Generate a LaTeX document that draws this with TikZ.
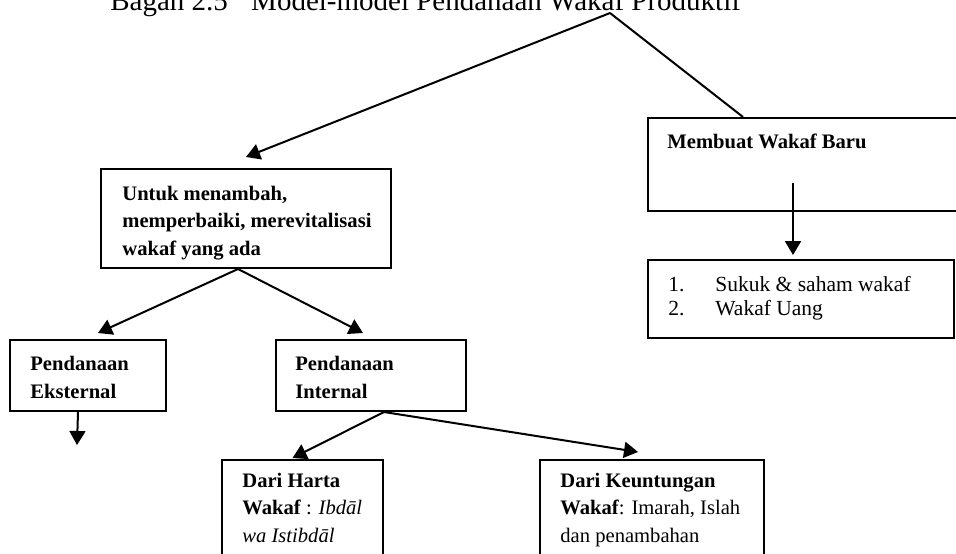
\documentclass[tikz,border=0pt]{standalone}
\usepackage{fontspec}
\setmainfont{Liberation Serif}
\usetikzlibrary{arrows.meta}

\tikzset{
  box/.style={draw, line width=1pt, rectangle, anchor=north west, inner sep=0pt},
  lbl/.style={anchor=base west, inner sep=0pt, align=left, font=\fontsize{10.3}{13.75}\selectfont},
  arr/.style={line width=1pt, -{Triangle[length=7pt,width=8pt]}},
  lin/.style={line width=1pt}
}

\begin{document}
\begin{tikzpicture}[x=0.5pt,y=-0.5pt]
\useasboundingbox (0,0) rectangle (956,553);
\clip (0,0) rectangle (956,553);

\node[anchor=base west, inner sep=0pt, font=\fontsize{14.5}{17}\selectfont] (title) at (110,10) {Bagan 2.5\hspace{8pt} Model-model Pendanaan Wakaf Produktif};
\coordinate (top) at (610,13);

\node[box, minimum width=145pt, minimum height=49.5pt] (a) at (100,168) {};
\node[box, minimum width=161.5pt, minimum height=46.5pt] (b) at (647,117) {};
\node[box, minimum width=153pt, minimum height=39pt] (c) at (647,259) {};
\node[box, minimum width=78pt, minimum height=35.5pt] (d) at (9,339) {};
\node[box, minimum width=95pt, minimum height=35.5pt] (e) at (275,339) {};
\node[box, minimum width=80.5pt, minimum height=55pt] (f) at (221,459) {};
\node[box, minimum width=112pt, minimum height=55pt] (g) at (539,459) {};

\node[lbl] (ta) at (122,255) {\textbf{Untuk menambah,}\\\textbf{memperbaiki, merevitalisasi}\\\textbf{wakaf yang ada}};
\node[lbl] (tb) at (667,148) {\textbf{Membuat Wakaf Baru}};
\node[lbl, font=\fontsize{10.75}{12}\selectfont] (tc) at (668,315) {\makebox[23.5pt][l]{1.}Sukuk \& saham wakaf\\\makebox[23.5pt][l]{2.}Wakaf Uang};
\node[lbl] (td) at (30,398) {\textbf{Pendanaan}\\\textbf{Eksternal}};
\node[lbl] (te) at (295,398) {\textbf{Pendanaan}\\\textbf{Internal}};
\node[lbl] (tf) at (242,542) {\textbf{Dari Harta}\\\textbf{Wakaf} : \textit{Ibdāl}\\\textit{wa Istibdāl}};
\node[lbl] (tg) at (560,542) {\textbf{Dari Keuntungan}\\\textbf{Wakaf}: Imarah, Islah\\dan penambahan};

\coordinate (bdown) at (793,183);
\coordinate (dout) at (77,445);

\path[draw,arr] (top) -- ([yshift=5.5pt]a.north);
\path[draw,lin] (top) -- ([xshift=48pt]b.north west);
\path[draw,arr] (bdown) -- ([yshift=2pt]c.north -| bdown);
\path[draw,arr] ([xshift=-4pt]a.south) -- ([xshift=5pt,yshift=3pt]d.north);
\path[draw,arr] ([xshift=-4pt]a.south) -- ([xshift=-4pt,yshift=3pt]e.north);
\path[draw,arr] ([xshift=-5pt]d.south) -- (dout);
\path[draw,arr] ([xshift=6.5pt]e.south) -- ([xshift=-5pt,yshift=0.5pt]f.north);
\path[draw,arr] ([xshift=6.5pt]e.south) -- ([xshift=-7pt,yshift=3.5pt]g.north);
\end{tikzpicture}
\end{document}
